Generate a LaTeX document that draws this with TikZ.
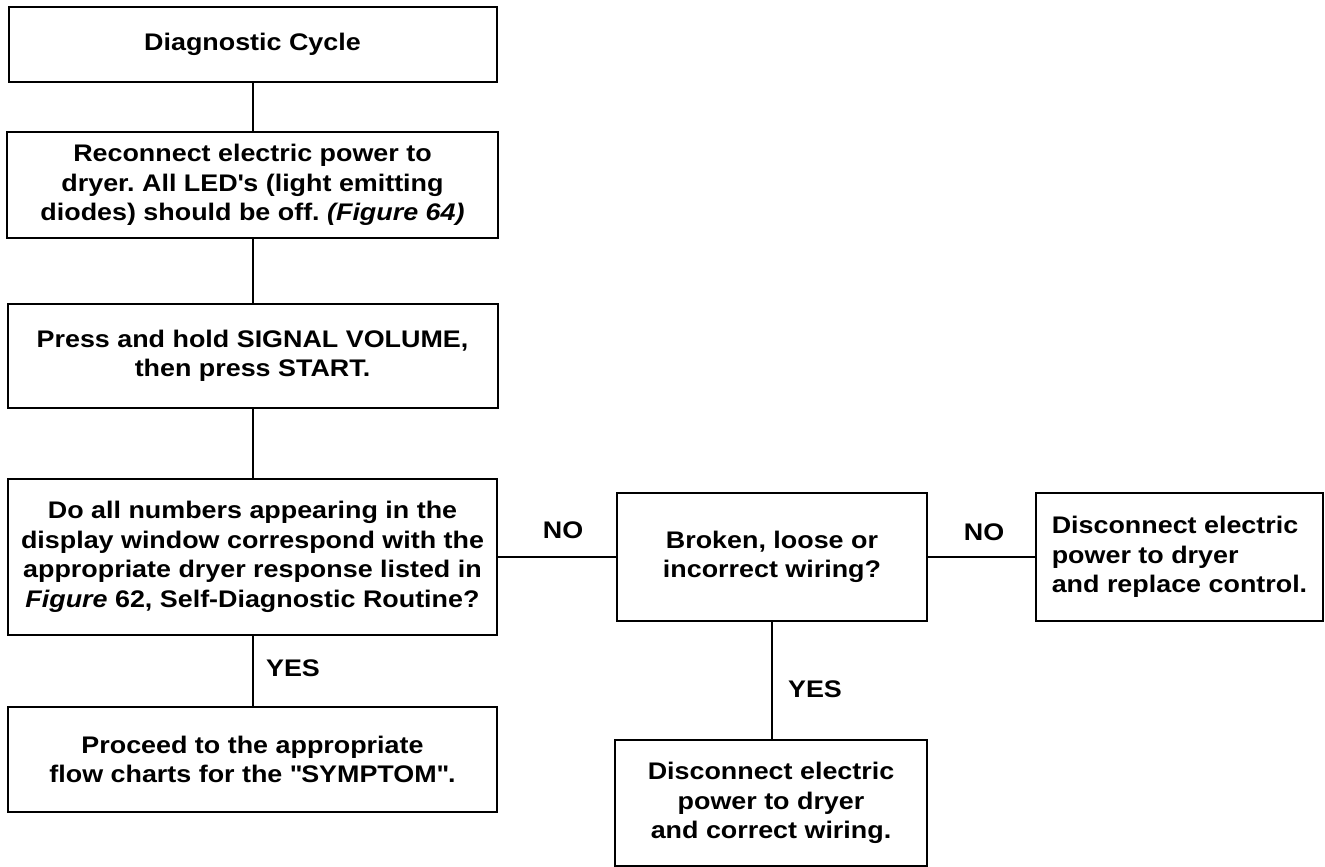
\documentclass[tikz,border=0pt]{standalone}
\usepackage{fontspec}
\setmainfont{Liberation Sans}[FakeStretch=1.12]
\begin{document}
\frenchspacing
\begin{tikzpicture}[x=1pt,y=-1pt,
  box/.style={draw, line width=2pt, align=center, inner sep=0pt,
    font=\fontsize{24}{29.5}\selectfont\bfseries},
  lbl/.style={inner sep=0pt, font=\fontsize{24}{29.5}\selectfont\bfseries},
  conn/.style={line width=2pt}]
\useasboundingbox[fill=white] (0,0) rectangle (1325,867);
\node[box, minimum width=488pt, minimum height=75pt] (b1) at (252.5,44.5) {Diagnostic Cycle};
\node[box, minimum width=491pt, minimum height=106pt] (b2) at (252.5,185) {Reconnect electric power to\\dryer. All LED\textquotesingle s (light emitting\\diodes) should be off. {\itshape (Figure 64)}};
\node[box, minimum width=490pt, minimum height=104pt] (b3) at (252.5,356) {Press and hold SIGNAL VOLUME,\\then press START.};
\node[box, minimum width=489pt, minimum height=156pt] (b4) at (252.5,557) {Do all numbers appearing in the\\display window correspond with the\\appropriate dryer response listed in\\{\itshape Figure} 62, Self-Diagnostic Routine?};
\node[box, minimum width=489pt, minimum height=105pt] (b5) at (252.5,759.5) {Proceed to the appropriate\\flow charts for the \textquotedbl SYMPTOM\textquotedbl .};
\node[box, minimum width=310pt, minimum height=128pt] (mid) at (772,557) {Broken, loose or\\incorrect wiring?};
\node[box, minimum width=287pt, minimum height=128pt, align=left] (rgt) at (1179.5,557) {Disconnect electric\\power to dryer\\and replace control.};
\node[box, minimum width=312pt, minimum height=126pt] (bot) at (771,803) {Disconnect electric\\power to dryer\\and correct wiring.};
\draw[conn] (b1.south) -- (b2.north);
\draw[conn] (b2.south) -- (b3.north);
\draw[conn] (b3.south) -- (b4.north);
\draw[conn] (b4.south) -- (b5.north);
\draw[conn] (b4.east) -- (mid.west);
\draw[conn] (mid.east) -- (rgt.west);
\draw[conn] (mid.south) -- (mid.south |- bot.north);
\node[lbl] (no1) at (563,530) {NO};
\node[lbl] (no2) at (984,532) {NO};
\node[lbl] (yes1) at (293,668) {YES};
\node[lbl] (yes2) at (815,689) {YES};
\end{tikzpicture}
\end{document}
